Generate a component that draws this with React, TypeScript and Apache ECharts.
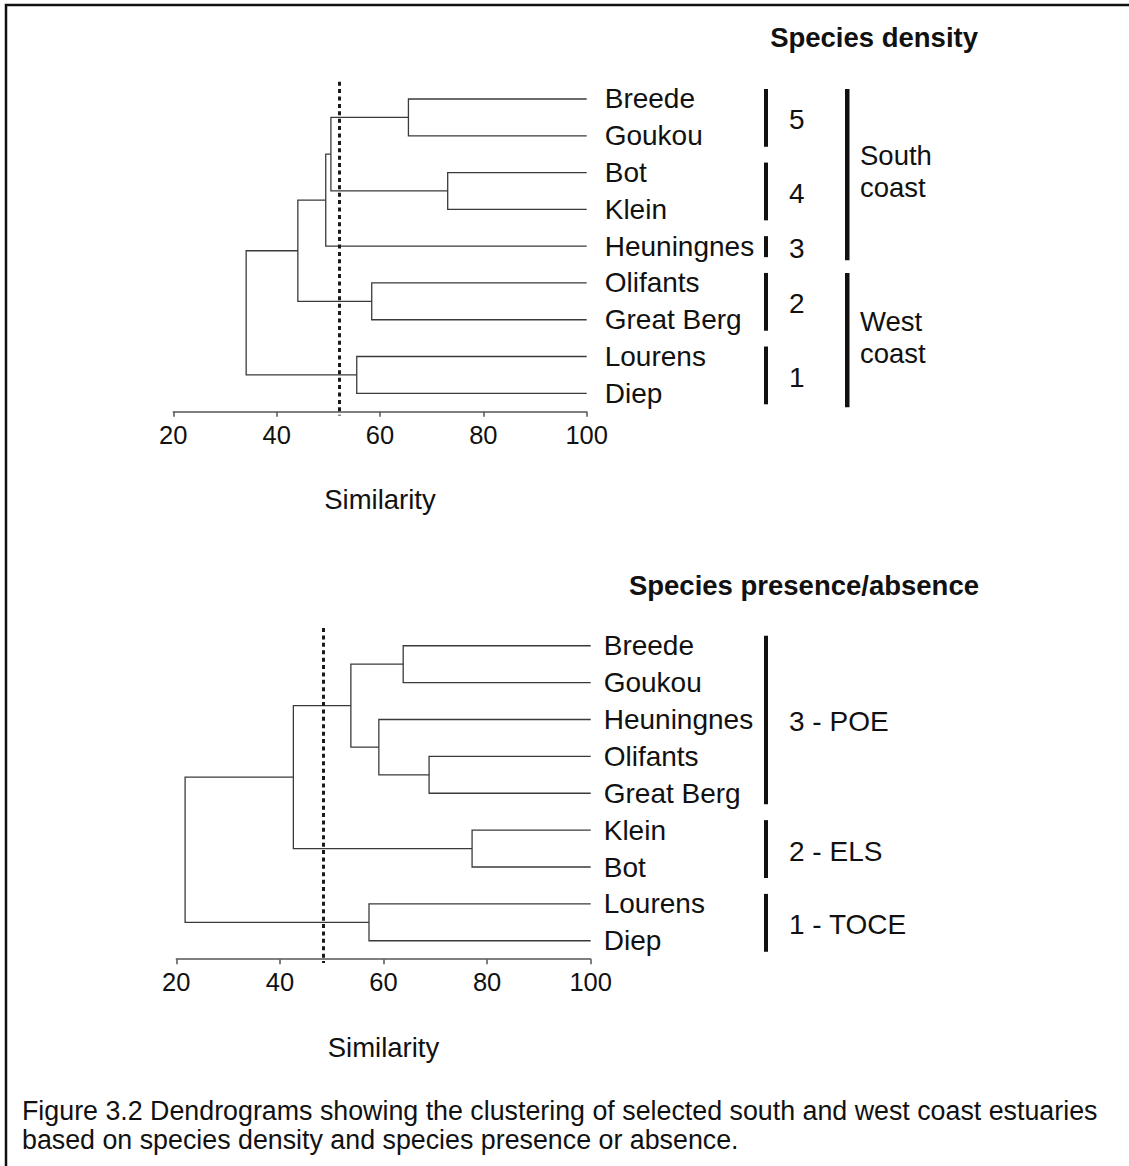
import React, { useEffect, useRef } from "react";
import * as echarts from "echarts";

const W = 1129;
const H = 1166;
const FONT = "'Liberation Sans', Arial, Helvetica, sans-serif";
const INK = "#111111";

// ---------- Data: species density dendrogram ----------
const densityTitle = "Species density";
const densityLeaves = ["Breede", "Goukou", "Bot", "Klein", "Heuningnes", "Olifants", "Great Berg", "Lourens", "Diep"];
// merge = [child A, child B, similarity]; child >= 0 is a leaf index, child < 0 is merge -(k+1)
const densityMergeA = [0, 2, -1, -3, 5, -4, 7, -6];
const densityMergeB = [1, 3, -2, 4, 6, -5, 8, -7];
const densityMergeHeight = [65.5, 73.1, 50.5, 49.5, 58.4, 44.1, 55.5, 34.1];
const densityCutoff = 52.1;
const densityGroupLabels = ["5", "4", "3", "2", "1"];
const densityGroupFrom = [0, 2, 4, 5, 7];
const densityGroupTo = [1, 3, 4, 6, 8];
const densityRegionLabels = ["South\ncoast", "West\ncoast"];
const densityRegionFrom = [0, 5];
const densityRegionTo = [4, 8];

// ---------- Data: species presence/absence dendrogram ----------
const presenceTitle = "Species presence/absence";
const presenceLeaves = ["Breede", "Goukou", "Heuningnes", "Olifants", "Great Berg", "Klein", "Bot", "Lourens", "Diep"];
const presenceMergeA = [0, 3, 2, -1, 5, -4, 7, -6];
const presenceMergeB = [1, 4, -2, -3, 6, -5, 8, -7];
const presenceMergeHeight = [63.8, 68.8, 59.1, 53.7, 77.1, 42.6, 57.2, 21.7];
const presenceCutoff = 48.4;
const presenceGroupLabels = ["3 - POE", "2 - ELS", "1 - TOCE"];
const presenceGroupFrom = [0, 5, 7];
const presenceGroupTo = [4, 6, 8];

// ---------- Axis ----------
const xMin = 20;
const xMax = 100;
const xStep = 20;
const axisName = "Similarity";
const caption =
  "Figure 3.2 Dendrograms showing the clustering of selected south and west coast estuaries\nbased on species density and species presence or absence.";

function buildLinks(a: number[], b: number[], h: number[]) {
  const nodes: { x: number; y: number }[] = [];
  const get = (c: number) => (c >= 0 ? { x: xMax, y: c } : nodes[-c - 1]);
  const links: { coords: number[][] }[] = [];
  for (let k = 0; k < h.length; k++) {
    const p = get(a[k]);
    const q = get(b[k]);
    links.push({ coords: [[p.x, p.y], [h[k], p.y], [h[k], q.y], [q.x, q.y]] });
    nodes.push({ x: h[k], y: (p.y + q.y) / 2 });
  }
  return links;
}

function xAxisCfg(gridIndex: number) {
  return {
    type: "value",
    gridIndex,
    min: xMin,
    max: xMax,
    interval: xStep,
    name: axisName,
    nameLocation: "middle",
    nameGap: 74,
    nameTextStyle: { fontFamily: FONT, fontSize: 27.5, color: INK },
    axisLine: { show: true, onZero: false, lineStyle: { color: "#555", width: 1.5 } },
    axisTick: { show: true, length: 5, lineStyle: { color: "#555", width: 1.5 } },
    axisLabel: { fontFamily: FONT, fontSize: 25.5, color: INK, margin: 10 },
    splitLine: { show: false },
  };
}

export default function App() {
  const ref = useRef<HTMLDivElement>(null);
  useEffect(() => {
    document.body.style.margin = "0";
    document.body.style.overflow = "hidden";
    const chart = echarts.init(ref.current!, undefined, { renderer: "svg" });
    const nLeaves = densityLeaves.length;
    const option: any = {
      animation: false,
      backgroundColor: "#ffffff",
      grid: [
        { left: 173.3, width: 413.4, top: 80.6, height: 331.1 },
        { left: 176.3, width: 414.4, top: 627.3, height: 331.9 },
      ],
      xAxis: [xAxisCfg(0), xAxisCfg(1)],
      yAxis: [
        { type: "value", gridIndex: 0, min: -0.5, max: nLeaves - 0.5, inverse: true, show: false },
        {
          type: "category", gridIndex: 0, data: densityLeaves, inverse: true, position: "right",
          axisLine: { show: false }, axisTick: { show: false }, splitLine: { show: false },
          axisLabel: { fontFamily: FONT, fontSize: 28, color: INK, margin: 18, align: "left" },
        },
        { type: "value", gridIndex: 1, min: -0.5, max: nLeaves - 0.5, inverse: true, show: false },
        {
          type: "category", gridIndex: 1, data: presenceLeaves, inverse: true, position: "right",
          axisLine: { show: false }, axisTick: { show: false }, splitLine: { show: false },
          axisLabel: { fontFamily: FONT, fontSize: 28, color: INK, margin: 13, align: "left" },
        },
      ],
      series: [
        {
          type: "lines", coordinateSystem: "cartesian2d", xAxisIndex: 0, yAxisIndex: 0, polyline: true,
          silent: true, lineStyle: { color: "#3a3a3a", width: 1.3, opacity: 1 },
          data: buildLinks(densityMergeA, densityMergeB, densityMergeHeight),
        },
        {
          type: "lines", coordinateSystem: "cartesian2d", xAxisIndex: 0, yAxisIndex: 0, clip: false,
          silent: true, lineStyle: { color: "#1a1a1a", width: 3, type: [4, 3.4], opacity: 1 },
          data: [{ coords: [[densityCutoff, -0.47], [densityCutoff, nLeaves - 0.4]] }],
        },
        {
          type: "lines", coordinateSystem: "cartesian2d", xAxisIndex: 1, yAxisIndex: 2, polyline: true,
          silent: true, lineStyle: { color: "#3a3a3a", width: 1.3, opacity: 1 },
          data: buildLinks(presenceMergeA, presenceMergeB, presenceMergeHeight),
        },
        {
          type: "lines", coordinateSystem: "cartesian2d", xAxisIndex: 1, yAxisIndex: 2, clip: false,
          silent: true, lineStyle: { color: "#1a1a1a", width: 3, type: [4, 3.4], opacity: 1 },
          data: [{ coords: [[presenceCutoff, -0.48], [presenceCutoff, nLeaves - 0.4]] }],
        },
      ],
    };
    chart.setOption(option);

    const yOf = (panel: number, i: number) =>
      (chart.convertToPixel({ xAxisIndex: panel, yAxisIndex: panel * 2 } as any, [xMax, i]) as number[])[1];

    const graphics: any[] = [];
    const BAR_X = 764;
    const BAR_W = 4;
    const LABEL_X = 789;
    const REGION_X = 845;
    const REGION_TEXT_X = 860;
    const PAD_TOP = 10;
    const PAD_BOT = 11;

    const addGroups = (panel: number, labels: string[], from: number[], to: number[]) => {
      labels.forEach((lab, g) => {
        const y0 = yOf(panel, from[g]) - PAD_TOP;
        const y1 = yOf(panel, to[g]) + PAD_BOT;
        graphics.push({ type: "rect", shape: { x: BAR_X, y: y0, width: BAR_W, height: y1 - y0 }, style: { fill: INK } });
        graphics.push({
          type: "text", x: LABEL_X, y: (y0 + y1) / 2 + 2,
          style: { text: lab, fontFamily: FONT, fontSize: 28, fill: INK, align: "left", verticalAlign: "middle" },
        });
      });
    };
    addGroups(0, densityGroupLabels, densityGroupFrom, densityGroupTo);
    addGroups(1, presenceGroupLabels, presenceGroupFrom, presenceGroupTo);

    densityRegionLabels.forEach((lab, r) => {
      const y0 = yOf(0, densityRegionFrom[r]) - PAD_TOP;
      const y1 = yOf(0, densityRegionTo[r]) + PAD_BOT + 3;
      graphics.push({ type: "rect", shape: { x: REGION_X, y: y0, width: 4.5, height: y1 - y0 }, style: { fill: INK } });
      graphics.push({
        type: "text", x: REGION_TEXT_X, y: (y0 + y1) / 2 - 3,
        style: { text: lab, fontFamily: FONT, fontSize: 27.5, lineHeight: 32, fill: INK, align: "left", verticalAlign: "middle" },
      });
    });

    graphics.push({
      type: "text", x: 978, y: 37,
      style: { text: densityTitle, fontFamily: FONT, fontSize: 27.5, fontWeight: "bold", fill: INK, align: "right", verticalAlign: "middle" },
    });
    graphics.push({
      type: "text", x: 979, y: 585,
      style: { text: presenceTitle, fontFamily: FONT, fontSize: 27.5, fontWeight: "bold", fill: INK, align: "right", verticalAlign: "middle" },
    });
    graphics.push({
      type: "text", x: 22, y: 1125,
      style: { text: caption, fontFamily: FONT, fontSize: 26.8, lineHeight: 29, fill: INK, align: "left", verticalAlign: "middle" },
    });
    graphics.push({
      type: "polyline",
      shape: { points: [[6, H + 10], [6, 5], [W + 10, 5]] },
      style: { stroke: INK, lineWidth: 2.5, fill: "none" },
    });

    chart.setOption({ graphic: graphics });
    return () => chart.dispose();
  }, []);
  return <div ref={ref} style={{ position: "absolute", left: 0, top: 0, width: W, height: H }} />;
}
